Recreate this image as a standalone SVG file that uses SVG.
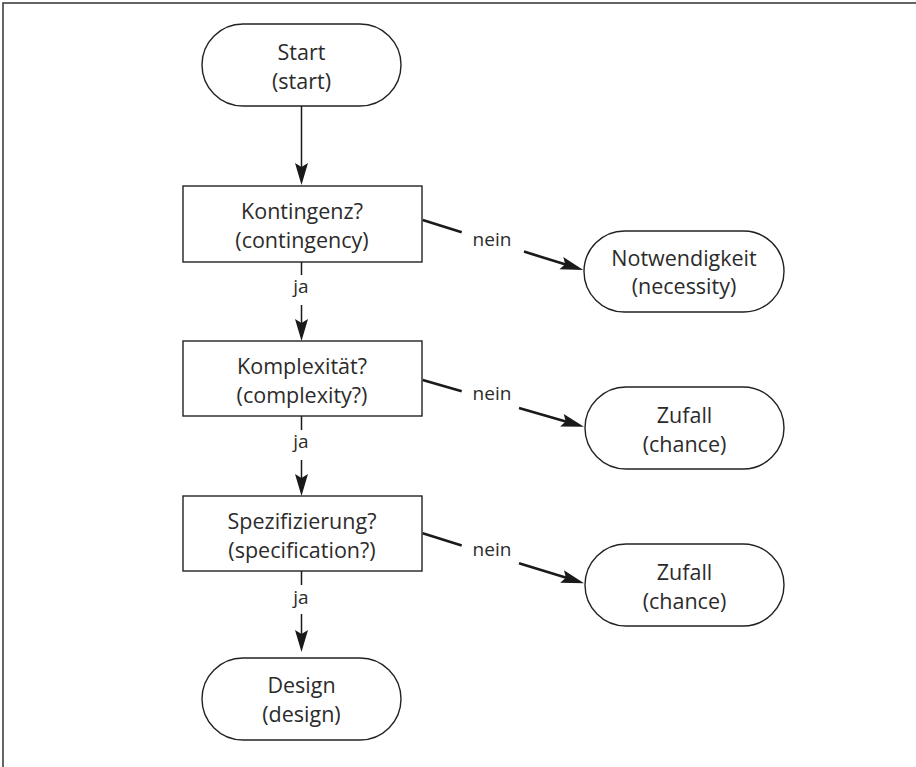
<svg xmlns="http://www.w3.org/2000/svg" width="916" height="767" viewBox="0 0 916 767">
  <style>
    .frame { fill: none; stroke: #333; stroke-width: 1.5; }
    .box { fill: #fff; stroke: #222; stroke-width: 1.4; }
    .lbl { font-family: "Open Sans", "Liberation Sans", sans-serif; font-size: 21.5px; fill: #2b2b2b; text-anchor: middle; }
    .elbl { font-family: "Open Sans", "Liberation Sans", sans-serif; font-size: 19px; fill: #2b2b2b; text-anchor: middle; }
    .vline { fill: none; stroke: #1a1a1a; stroke-width: 1.5; marker-end: url(#arrow); }
    .dline { fill: none; stroke: #1a1a1a; stroke-width: 2.6; marker-end: url(#arrow2); }
  </style>
  <defs>
    <marker id="arrow" markerUnits="userSpaceOnUse" orient="auto" refX="-10" refY="0" markerWidth="30" markerHeight="20" overflow="visible">
      <path d="M0,0 L-22,-6.5 L-18,0 L-22,6.5 Z" fill="#1a1a1a"/>
    </marker>
    <marker id="arrow2" markerUnits="userSpaceOnUse" orient="auto" refX="-10" refY="0" markerWidth="30" markerHeight="20" overflow="visible">
      <path d="M0,0 L-23,-6.5 L-19,0 L-23,6.5 Z" fill="#1a1a1a"/>
    </marker>
  </defs>
  <rect width="916" height="767" fill="#fff"/>
  <path class="frame" d="M3,767 V3 H916"/>

  <g id="connectors">
    <path class="vline" d="M301.5,106 V175"/>
    <path class="vline" d="M301.5,262 V275 M301.5,305 V331"/>
    <path class="vline" d="M301.5,416 V430 M301.5,460 V486"/>
    <path class="vline" d="M301.5,571 V585 M301.5,614 V642"/>
    <path class="dline" d="M422.7,220 L461.7,232.3 M524,251.6 L573.8,267"/>
    <path class="dline" d="M422.7,380 L461.7,391.3 M519,407.9 L574.4,423.9"/>
    <path class="dline" d="M422.7,533.3 L461.7,545.4 M519,563.2 L574.5,580.3"/>
    <text class="elbl" x="301" y="293">ja</text>
    <text class="elbl" x="301" y="448">ja</text>
    <text class="elbl" x="301" y="604">ja</text>
    <text class="elbl" x="492" y="246">nein</text>
    <text class="elbl" x="492" y="399.5">nein</text>
    <text class="elbl" x="492" y="556">nein</text>
  </g>

  <g id="start">
    <rect class="box" x="202" y="24" width="199" height="82" rx="41" ry="41"/>
    <text class="lbl" x="301.5" y="60">Start</text>
    <text class="lbl" x="301.5" y="89">(start)</text>
  </g>
  <g id="kontingenz">
    <rect class="box" x="183" y="186" width="239" height="76"/>
    <text class="lbl" x="302" y="219">Kontingenz?</text>
    <text class="lbl" x="302" y="248">(contingency)</text>
  </g>
  <g id="notwendigkeit">
    <rect class="box" x="584" y="231" width="200" height="81" rx="40.5" ry="40.5"/>
    <text class="lbl" x="684" y="266">Notwendigkeit</text>
    <text class="lbl" x="684" y="294">(necessity)</text>
  </g>
  <g id="komplexitaet">
    <rect class="box" x="183" y="341" width="239" height="75"/>
    <text class="lbl" x="302" y="373.5">Komplexität?</text>
    <text class="lbl" x="302" y="402.5">(complexity?)</text>
  </g>
  <g id="zufall1">
    <rect class="box" x="585" y="387" width="199" height="82" rx="41" ry="41"/>
    <text class="lbl" x="684.5" y="423">Zufall</text>
    <text class="lbl" x="684.5" y="452">(chance)</text>
  </g>
  <g id="spezifizierung">
    <rect class="box" x="183" y="496" width="239" height="75"/>
    <text class="lbl" x="302" y="528.5">Spezifizierung?</text>
    <text class="lbl" x="302" y="557.5">(specification?)</text>
  </g>
  <g id="zufall2">
    <rect class="box" x="585" y="544" width="199" height="82" rx="41" ry="41"/>
    <text class="lbl" x="684.5" y="580">Zufall</text>
    <text class="lbl" x="684.5" y="609">(chance)</text>
  </g>
  <g id="design">
    <rect class="box" x="202" y="658" width="199" height="82" rx="41" ry="41"/>
    <text class="lbl" x="301.5" y="693">Design</text>
    <text class="lbl" x="301.5" y="722">(design)</text>
  </g>
</svg>
